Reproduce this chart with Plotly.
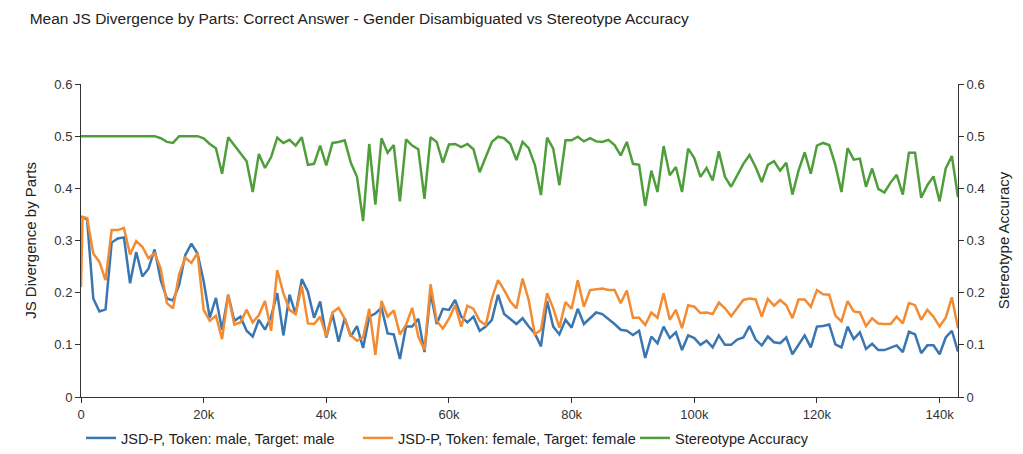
import plotly.graph_objects as go

# Training steps at which the metrics were logged
steps = [0, 250] + [1000 * k for k in range(1, 144)]

jsd_male = [
    0.345, 0.345, 0.340, 0.189, 0.164, 0.168, 0.296, 0.304, 0.306, 0.218, 0.278,
    0.231, 0.246, 0.283, 0.224, 0.189, 0.185, 0.215, 0.272, 0.294, 0.275,
    0.222, 0.152, 0.190, 0.129, 0.196, 0.146, 0.154, 0.127, 0.116, 0.148,
    0.129, 0.154, 0.199, 0.118, 0.196, 0.159, 0.226, 0.202, 0.152, 0.183,
    0.114, 0.159, 0.106, 0.151, 0.116, 0.136, 0.094, 0.154, 0.160, 0.171,
    0.122, 0.120, 0.073, 0.135, 0.135, 0.150, 0.086, 0.200, 0.140, 0.169,
    0.167, 0.186, 0.154, 0.143, 0.154, 0.127, 0.135, 0.148, 0.196, 0.159,
    0.150, 0.140, 0.151, 0.135, 0.122, 0.097, 0.184, 0.135, 0.120, 0.148,
    0.133, 0.169, 0.140, 0.151, 0.162, 0.159, 0.150, 0.140, 0.129, 0.127,
    0.119, 0.127, 0.075, 0.116, 0.103, 0.135, 0.113, 0.124, 0.090, 0.118,
    0.113, 0.100, 0.108, 0.095, 0.118, 0.100, 0.100, 0.110, 0.114, 0.136,
    0.110, 0.099, 0.116, 0.105, 0.103, 0.114, 0.082, 0.101, 0.118, 0.095,
    0.135, 0.136, 0.139, 0.101, 0.095, 0.135, 0.111, 0.124, 0.092, 0.102,
    0.090, 0.090, 0.095, 0.099, 0.086, 0.125, 0.120, 0.084, 0.099, 0.099,
    0.082, 0.114, 0.127, 0.087,
]

jsd_female = [
    0.211, 0.345, 0.343, 0.275, 0.259, 0.224, 0.320, 0.320, 0.324, 0.273, 0.299,
    0.288, 0.266, 0.276, 0.246, 0.180, 0.170, 0.235, 0.267, 0.257, 0.276,
    0.167, 0.146, 0.156, 0.111, 0.196, 0.139, 0.143, 0.167, 0.143, 0.157,
    0.184, 0.127, 0.243, 0.199, 0.167, 0.159, 0.213, 0.141, 0.140, 0.154,
    0.116, 0.162, 0.171, 0.150, 0.118, 0.108, 0.114, 0.169, 0.081, 0.184,
    0.154, 0.166, 0.120, 0.138, 0.171, 0.116, 0.090, 0.216, 0.146, 0.131,
    0.150, 0.176, 0.135, 0.175, 0.169, 0.146, 0.138, 0.189, 0.224, 0.205,
    0.183, 0.170, 0.227, 0.186, 0.120, 0.129, 0.199, 0.170, 0.133, 0.182,
    0.169, 0.224, 0.173, 0.205, 0.207, 0.208, 0.205, 0.205, 0.180, 0.204,
    0.152, 0.152, 0.138, 0.162, 0.152, 0.199, 0.148, 0.167, 0.132, 0.176,
    0.173, 0.161, 0.162, 0.159, 0.181, 0.170, 0.155, 0.170, 0.186, 0.189,
    0.187, 0.154, 0.188, 0.175, 0.186, 0.176, 0.151, 0.187, 0.187, 0.173,
    0.205, 0.197, 0.196, 0.156, 0.145, 0.184, 0.164, 0.162, 0.136, 0.151,
    0.141, 0.140, 0.140, 0.154, 0.141, 0.180, 0.176, 0.148, 0.167, 0.154,
    0.135, 0.152, 0.191, 0.132,
]

stereotype_acc = [
    0.500, 0.500, 0.500, 0.500, 0.500, 0.500, 0.500, 0.500, 0.500, 0.500, 0.500,
    0.500, 0.500, 0.500, 0.496, 0.489, 0.487, 0.500, 0.500, 0.500, 0.500,
    0.496, 0.485, 0.477, 0.428, 0.498, 0.483, 0.469, 0.452, 0.393, 0.466,
    0.439, 0.460, 0.497, 0.487, 0.493, 0.482, 0.498, 0.445, 0.447, 0.482,
    0.444, 0.487, 0.489, 0.492, 0.449, 0.422, 0.337, 0.485, 0.369, 0.496,
    0.468, 0.483, 0.375, 0.494, 0.482, 0.475, 0.380, 0.498, 0.489, 0.449,
    0.484, 0.485, 0.479, 0.485, 0.475, 0.431, 0.460, 0.489, 0.499, 0.496,
    0.485, 0.454, 0.489, 0.477, 0.445, 0.387, 0.497, 0.476, 0.406, 0.492,
    0.492, 0.499, 0.490, 0.496, 0.490, 0.489, 0.493, 0.483, 0.463, 0.489,
    0.447, 0.445, 0.366, 0.434, 0.393, 0.481, 0.425, 0.441, 0.393, 0.476,
    0.458, 0.422, 0.439, 0.415, 0.471, 0.422, 0.403, 0.426, 0.447, 0.464,
    0.441, 0.412, 0.445, 0.452, 0.434, 0.449, 0.388, 0.434, 0.469, 0.428,
    0.482, 0.487, 0.483, 0.445, 0.393, 0.477, 0.455, 0.457, 0.403, 0.438,
    0.399, 0.392, 0.411, 0.426, 0.388, 0.468, 0.468, 0.382, 0.406, 0.423,
    0.375, 0.438, 0.462, 0.383,
]

x_tick_vals = [0, 20000, 40000, 60000, 80000, 100000, 120000, 140000]
x_tick_text = ["0", "20k", "40k", "60k", "80k", "100k", "120k", "140k"]
y_tick_vals = [0, 0.1, 0.2, 0.3, 0.4, 0.5, 0.6]
y_tick_text = ["0", "0.1", "0.2", "0.3", "0.4", "0.5", "0.6"]

FONT = "Liberation Sans, Arial, Helvetica, sans-serif"
BLUE, ORANGE, GREEN = "#3a76b1", "#f28b32", "#4f9e3b"

fig = go.Figure()
fig.add_trace(go.Scatter(x=steps, y=jsd_male, mode="lines",
                         name="JSD-P, Token: male, Target: male",
                         line=dict(color=BLUE, width=2.5)))
fig.add_trace(go.Scatter(x=steps, y=jsd_female, mode="lines",
                         name="JSD-P, Token: female, Target: female",
                         line=dict(color=ORANGE, width=2.5)))
fig.add_trace(go.Scatter(x=steps, y=stereotype_acc, mode="lines",
                         name="Stereotype Accuracy", yaxis="y2",
                         line=dict(color=GREEN, width=2.5)))

axis_common = dict(showgrid=False, zeroline=False, showline=True,
                   linecolor="#333333", linewidth=1, ticks="outside",
                   ticklen=5, tickcolor="#333333",
                   tickfont=dict(family=FONT, size=13, color="#333333"))

fig.update_layout(
    width=1023, height=454,
    margin=dict(l=81, r=65, t=84, b=57, autoexpand=False),
    paper_bgcolor="white", plot_bgcolor="white",
    font=dict(family=FONT, color="#222222"),
    title=dict(text="Mean JS Divergence by Parts: Correct Answer - Gender Disambiguated vs Stereotype Accuracy",
               x=0.029, xanchor="left", y=0.96, yanchor="middle",
               font=dict(family=FONT, size=15.5, color="#222222")),
    xaxis=dict(range=[0, 143000], tickvals=x_tick_vals, ticktext=x_tick_text,
               **axis_common),
    yaxis=dict(range=[0, 0.6], tickvals=y_tick_vals, ticktext=y_tick_text,
               title=dict(text="JS Divergence by Parts",
                          font=dict(family=FONT, size=15, color="#222222"),
                          standoff=14),
               **axis_common),
    yaxis2=dict(range=[0, 0.6], tickvals=y_tick_vals, ticktext=y_tick_text,
                overlaying="y", side="right", anchor="x",
                title=dict(text="Stereotype Accuracy",
                           font=dict(family=FONT, size=15, color="#222222"),
                           standoff=14),
                **axis_common),
    legend=dict(orientation="h", x=0.0, xanchor="left", y=-0.131, yanchor="middle",
                font=dict(family=FONT, size=14.5, color="#222222"),
                itemwidth=30, entrywidth=232, entrywidthmode="pixels",
                bgcolor="rgba(0,0,0,0)"),
)

fig.write_html("out.html")
